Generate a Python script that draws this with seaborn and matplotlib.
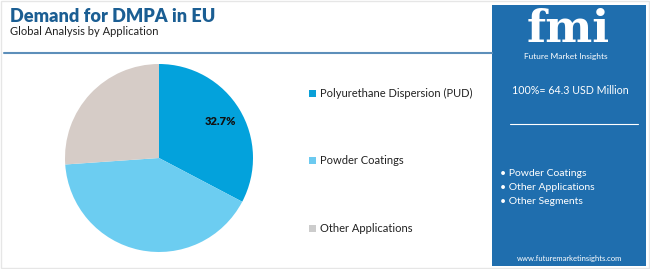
import matplotlib
matplotlib.use("Agg")
import matplotlib.pyplot as plt
import seaborn as sns
import numpy as np
from matplotlib.patches import Rectangle
from matplotlib.lines import Line2D

sns.set_theme(style="white")
plt.rcParams['font.family'] = ['Lato', 'DejaVu Sans']

categories = ["Polyurethane Dispersion (PUD)", "Powder Coatings", "Other Applications"]
shares = [32.7, 41.2, 26.1]
colors = ["#03a2dc", "#6ccdf1", "#d6ccc7"]
legend_colors = ["#0aa0d8", "#6ccaf0", "#cccccc"]
title = "Demand for DMPA in EU"
subtitle = "Global Analysis by Application"
total_label = "100%= 64.3 USD Million"
bullets = ["Powder Coatings", "Other Applications", "Other Segments"]

W, H = 650, 269
fig = plt.figure(figsize=(W / 100, H / 100), dpi=100)
fig.patch.set_facecolor("white")

def fx(x):
    return x / W

def fy(y):
    return 1 - y / H

# border
fig.patches.append(Rectangle((0.001, 0.002), 0.997, 0.995, transform=fig.transFigure,
                             fill=False, edgecolor="#e6e6e6", lw=1.0))

# title
fig.text(fx(10), fy(17), title, fontsize=13.1, fontweight="heavy", color="#1b5e93",
         va="center", ha="left")
fig.text(fx(10), fy(32), subtitle, fontsize=8, color="#222222", va="center", ha="left")
fig.lines.append(Line2D([fx(4), fx(492)], [fy(53), fy(53)], transform=fig.transFigure,
                        color="#5d8fba", lw=1.5))

# pie
cx, cy, r = 159, 158, 94
ax = fig.add_axes([fx(cx - r), fy(cy + r), 2 * r / W, 2 * r / H])
wedges, _ = ax.pie(shares, colors=colors, startangle=90, counterclock=False,
                   radius=1.0, wedgeprops=dict(linewidth=0))
ax.set_xlim(-1, 1)
ax.set_ylim(-1, 1)
ax.set_aspect("equal")
ax.axis("off")
theta = np.deg2rad(90 - shares[0] / 100 * 360 / 2)
ax.text(0.76 * np.cos(theta), 0.76 * np.sin(theta), f"{shares[0]}%", ha="center",
        va="center", fontsize=8, fontweight="heavy", color="#111111")

# legend
for i, (cat, col) in enumerate(zip(categories, legend_colors)):
    y = [93, 160, 228][i]
    fig.patches.append(Rectangle((fx(309), fy(y + 3.5)), 7 / W, 7 / H,
                                 transform=fig.transFigure, facecolor=col, edgecolor="none"))
    fig.text(fx(320), fy(y), cat, fontsize=8, color="#222222", va="center", ha="left")

# right panel
fig.patches.append(Rectangle((fx(492), fy(266)), (646 - 492) / W, (266 - 5) / H,
                             transform=fig.transFigure, facecolor="#1f6eae", edgecolor="none"))
fig.text(fx(568), fy(30), "fmi", fontsize=32, fontweight="bold", color="white",
         ha="center", va="center", family=["DejaVu Serif"])
fig.text(fx(566), fy(56), "Future Market Insights", fontsize=6, color="white",
         ha="center", va="center")
fig.text(fx(570), fy(91), total_label, fontsize=7.7, color="white", ha="center", va="center")
fig.lines.append(Line2D([fx(510), fx(638)], [fy(124), fy(124)], transform=fig.transFigure,
                        color="white", lw=0.8))
for i, b in enumerate(bullets):
    fig.text(fx(500), fy(174 + 14 * i), "\u2022 " + b, fontsize=7.5, color="white",
             ha="left", va="center")
fig.text(fx(570), fy(258), "www.futuremarketinsights.com", fontsize=5.5, color="white",
         ha="center", va="center")

fig.savefig("out.png", dpi=100, facecolor="white")
